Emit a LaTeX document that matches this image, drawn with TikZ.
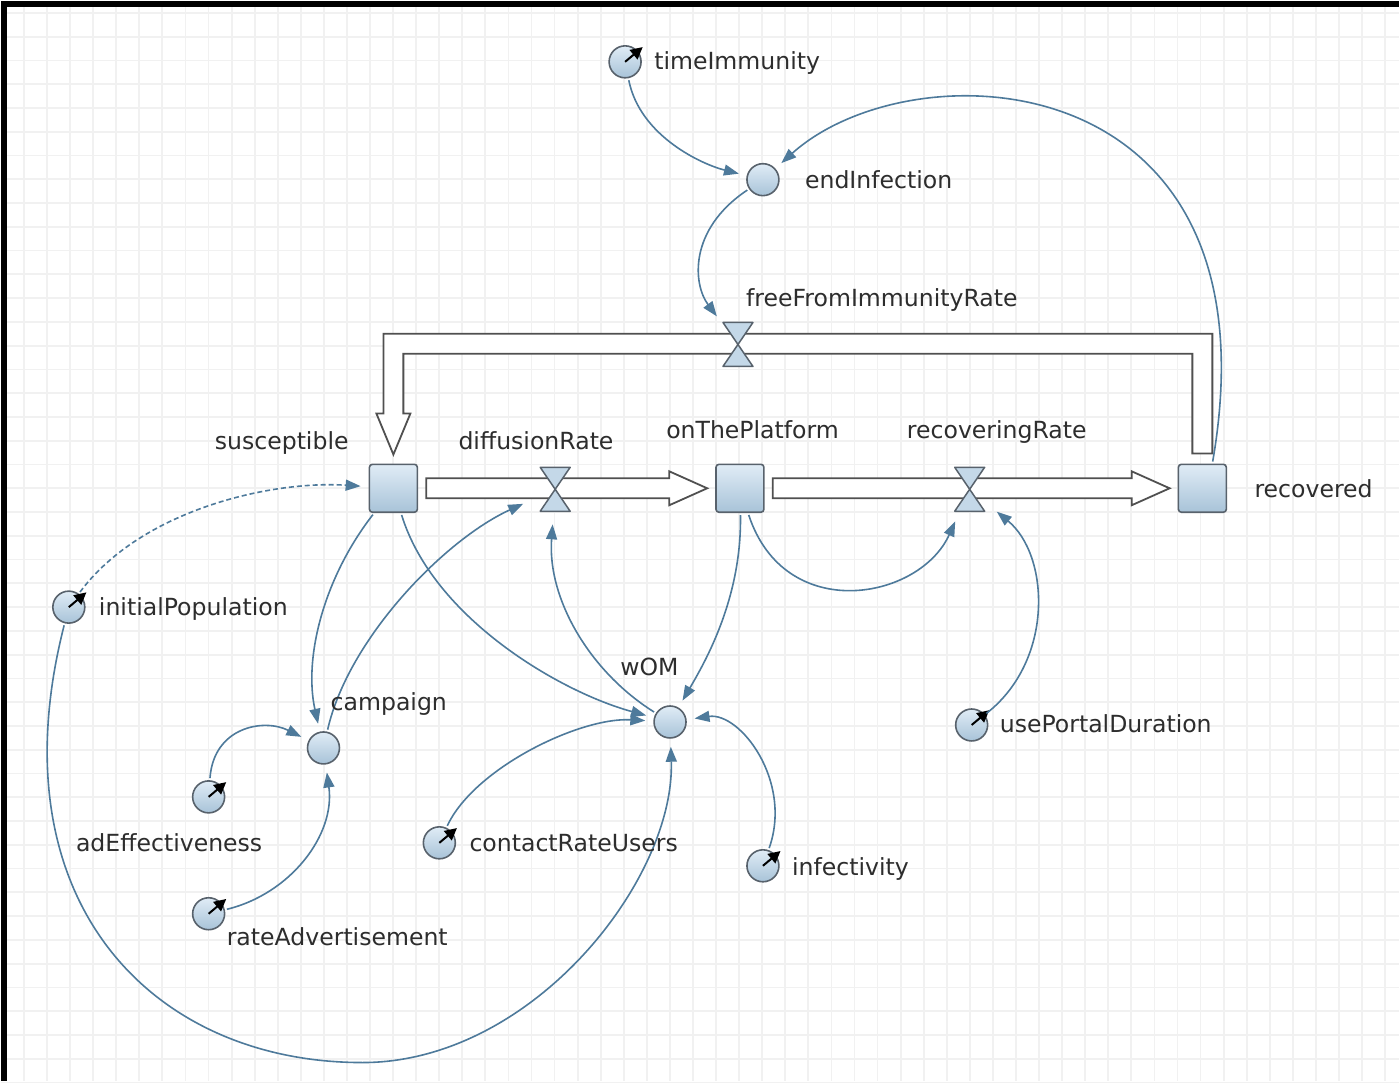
\documentclass[tikz,border=0pt]{standalone}
\usepackage{fontspec}
\setmainfont{DejaVu Sans}
\usepackage{tikz}
\usetikzlibrary{arrows.meta}

\definecolor{linkblue}{RGB}{78,122,155}
\definecolor{boxline}{RGB}{88,98,108}
\definecolor{pipeline}{RGB}{80,80,80}
\definecolor{fillTop}{RGB}{224,236,246}
\definecolor{fillBottom}{RGB}{168,195,216}
\definecolor{valvefill}{RGB}{196,216,232}
\definecolor{textgray}{RGB}{45,45,45}
\definecolor{gridgray}{RGB}{241,241,241}

\begin{document}
\begin{tikzpicture}[x=1pt, y=-1pt,
    stock/.style={rectangle, rounded corners=3pt, minimum size=48pt, inner sep=0pt,
        draw=boxline, line width=1.6pt, top color=fillTop, bottom color=fillBottom},
    aux/.style={circle, minimum size=32pt, inner sep=0pt,
        draw=boxline, line width=1.6pt, top color=fillTop, bottom color=fillBottom},
    valve/.style={circle, minimum size=66pt, inner sep=0pt},
    valvebody/.style={draw=boxline, line width=1.5pt, fill=valvefill, line join=round},
    pipe/.style={draw=pipeline, line width=1.8pt, fill=white},
    link/.style={draw=linkblue, line width=1.6pt, -{Triangle[length=15pt,width=11pt]},
        shorten >=8pt, shorten <=2pt},
    dial/.style={black, line width=2pt, -{Triangle[length=12pt,width=12pt]}},
    lbl/.style={anchor=base west, inner sep=0pt, text=textgray,
        font=\fontsize{23.6}{28}\selectfont},
    gridline/.style={draw=gridgray, line width=1.8pt}]

    % Background grid and frame
    \fill[white] (0,0) rectangle (1400,1081);
    \foreach \i in {1,...,60}
        \draw[gridline] (23.1*\i,0) -- (23.1*\i,1081);
    \foreach \j in {0,...,45}
        \draw[gridline] (0,12+23.8*\j) -- (1400,12+23.8*\j);
    \fill[black] (0,0) rectangle (1400,6);
    \fill[black] (0,0) rectangle (6,1081);
    \useasboundingbox (0,0) rectangle (1400,1081);

    % Stocks
    \node[stock] (susceptible) at (393,488) {};
    \node[stock] (onThePlatform) at (740,488) {};
    \node[stock] (recovered) at (1203,488) {};

    % Flows (valves)
    \node[valve] (diffusionRate) at (555,489) {};
    \node[valve] (recoveringRate) at (970,489) {};
    \node[valve] (freeFromImmunityRate) at (738,344) {};

    % Auxiliaries
    \node[aux] (endInfection) at (763,179) {};
    \node[aux] (campaign) at (323,748) {};
    \node[aux] (wOM) at (670,722) {};

    % Constants
    \node[aux] (timeImmunity) at (625,61) {};
    \node[aux] (initialPopulation) at (68,607) {};
    \node[aux] (adEffectiveness) at (208,797) {};
    \node[aux] (rateAdvertisement) at (208,914) {};
    \node[aux] (contactRateUsers) at (439,843) {};
    \node[aux] (infectivity) at (763,866) {};
    \node[aux] (usePortalDuration) at (972,725) {};
    \foreach \c in {timeImmunity, initialPopulation, adEffectiveness, rateAdvertisement,
                    contactRateUsers, infectivity, usePortalDuration}
        \draw[dial] (\c.center) -- ++(-40:23);

    % Pipes
    \draw[pipe] ([shift={(8,-10)}]susceptible.east) -- ([shift={(-46,-10)}]onThePlatform.west)
        -- ++(0,-7) -- ([xshift=-8pt]onThePlatform.west) -- ([shift={(-46,17)}]onThePlatform.west)
        -- ++(0,-7) -- ([shift={(8,10)}]susceptible.east) -- cycle;
    \draw[pipe] ([shift={(8,-10)}]onThePlatform.east) -- ([shift={(-46,-10)}]recovered.west)
        -- ++(0,-7) -- ([xshift=-8pt]recovered.west) -- ([shift={(-46,17)}]recovered.west)
        -- ++(0,-7) -- ([shift={(8,10)}]onThePlatform.east) -- cycle;
    \draw[pipe] ([shift={(-10,-10)}]recovered.north) -- ++(0,-100) -- ++(-790,0) -- ++(0,60)
        -- ++(7,0) -- ++(-17,41) -- ++(-17,-41) -- ++(7,0) -- ++(0,-80) -- ++(830,0)
        -- ++(0,120) -- cycle;
    \foreach \v in {diffusionRate, recoveringRate, freeFromImmunityRate}
        \draw[valvebody] ([shift={(-15,-22)}]\v.center) -- ++(30,0) -- (\v.center) -- cycle
            ([shift={(-15,22)}]\v.center) -- ++(30,0) -- (\v.center) -- cycle;

    % Links
    \coordinate (bottomTurn) at (362,1063);
    \draw[link] (timeImmunity) .. controls +(15,75) and +(-60,-15) .. (endInfection);
    \draw[link] ([xshift=10pt]recovered.north) .. controls +(70,-404) and +(150,-135) .. (endInfection);
    \draw[link, shorten >=2pt] (endInfection) .. controls +(-75,50) and +(-45,-60) .. (freeFromImmunityRate);
    \draw[link] (susceptible) .. controls +(-70,90) and +(-20,-90) .. (campaign);
    \draw[link, shorten >=2pt] (campaign) .. controls +(25,-110) and +(-110,50) .. (diffusionRate);
    \draw[link] (susceptible) .. controls +(40,130) and +(-110,-30) .. (wOM);
    \draw[link] (contactRateUsers) .. controls +(35,-75) and +(-90,-5) .. (wOM);
    \draw[link] (onThePlatform) .. controls +(2,110) and +(35,-60) .. (wOM);
    \draw[link] (infectivity) .. controls +(30,-85) and +(70,-10) .. (wOM);
    \draw[link] (initialPopulation) .. controls +(-75,293) and +(-212,0) .. (bottomTurn)
        .. controls +(170,0) and +(5,158) .. (wOM);
    \draw[link, dash pattern=on 5pt off 3pt] (initialPopulation) .. controls +(72,-97) and +(-123,-8) .. (susceptible);
    \draw[link, shorten >=2pt] (wOM) .. controls +(-80,-50) and +(-8,110) .. (diffusionRate);
    \draw[link, shorten >=2pt] (onThePlatform) .. controls +(45,137) and +(-50,111) .. (recoveringRate);
    \draw[link, shorten >=2pt] (usePortalDuration) .. controls +(83,-65) and +(80,66) .. (recoveringRate);
    \draw[link] (adEffectiveness) .. controls +(5,-70) and +(-60,-30) .. (campaign);
    \draw[link] (rateAdvertisement) .. controls +(82,-20) and +(12,87) .. (campaign);

    % Labels
    \node[lbl] (timeImmunityLabel) at (654,69) {timeImmunity};
    \node[lbl] (endInfectionLabel) at (805,188) {endInfection};
    \node[lbl] (freeFromImmunityRateLabel) at (746,306) {freeFromImmunityRate};
    \node[lbl] (susceptibleLabel) at (214,449) {susceptible};
    \node[lbl] (diffusionRateLabel) at (458,449) {diffusionRate};
    \node[lbl] (onThePlatformLabel) at (666,438) {onThePlatform};
    \node[lbl] (recoveringRateLabel) at (907,438) {recoveringRate};
    \node[lbl] (recoveredLabel) at (1255,497) {recovered};
    \node[lbl] (initialPopulationLabel) at (98,615) {initialPopulation};
    \node[lbl] (wOMLabel) at (620,675) {wOM};
    \node[lbl] (campaignLabel) at (330,710) {campaign};
    \node[lbl] (usePortalDurationLabel) at (1000,733) {usePortalDuration};
    \node[lbl] (adEffectivenessLabel) at (75,852) {adEffectiveness};
    \node[lbl] (contactRateUsersLabel) at (469,852) {contactRateUsers};
    \node[lbl] (infectivityLabel) at (792,876) {infectivity};
    \node[lbl] (rateAdvertisementLabel) at (226,946) {rateAdvertisement};
\end{tikzpicture}
\end{document}
